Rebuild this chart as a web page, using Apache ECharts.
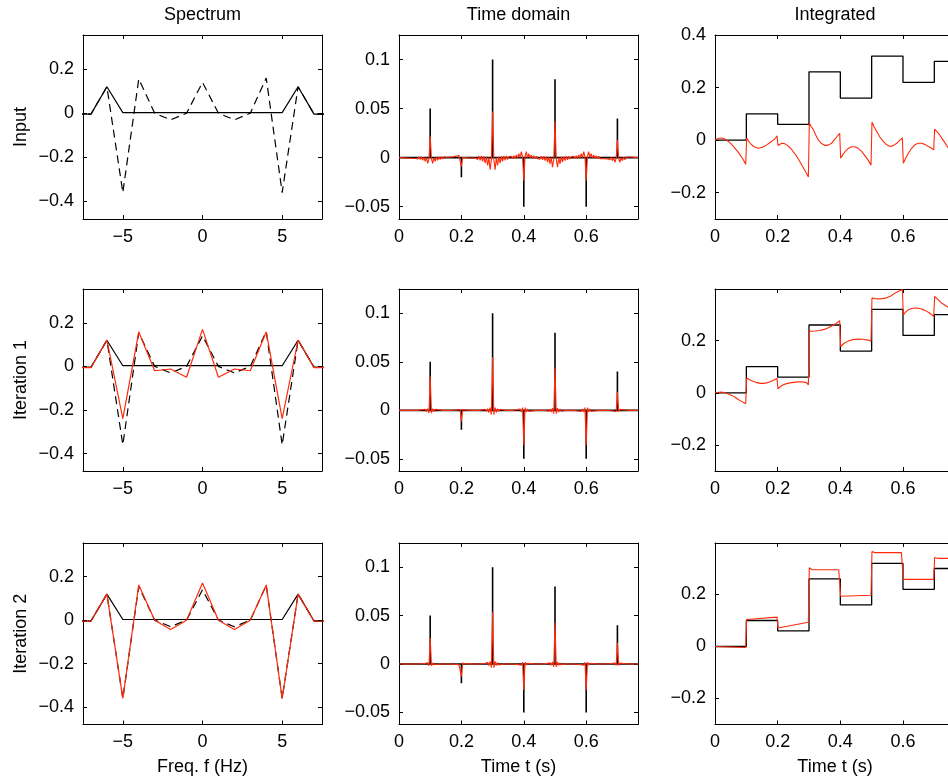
<!DOCTYPE html>
<html>
<head>
<meta charset="utf-8">
<script src="https://cdn.jsdelivr.net/npm/echarts@6/dist/echarts.min.js"></script>
<style>
  html, body { margin: 0; padding: 0; background: #fff; }
  #chart { width: 948px; height: 780px; }
</style>
</head>
<body>
<div id="chart"></div>
<script>
// ---- Spectra (values at integer frequencies, Hz) ----
const freqs      = [-8, -7, -6, -5, -4, -3, -2, -1, 0, 1, 2, 3, 4, 5, 6, 7, 8];
const specInput  = [-0.004, -0.004, 0.12, 0.003, 0.003, 0.003, 0.003, 0.003, 0.003, 0.003, 0.003, 0.003, 0.003, 0.003, 0.12, -0.004, -0.004];
const specTarget = [-0.004, -0.004, 0.12, -0.36, 0.155, 0.0, -0.03, 0.0, 0.14, 0.0, -0.03, 0.0, 0.16, -0.36, 0.12, -0.004, -0.004];
const specIter1  = [-0.006, -0.006, 0.121, -0.24, 0.158, -0.02, -0.012, -0.05, 0.17, -0.05, -0.012, -0.02, 0.158, -0.24, 0.121, -0.006, -0.006];
const specIter2  = [-0.005, -0.005, 0.12, -0.36, 0.162, 0.0, -0.043, 0.0, 0.171, 0.0, -0.043, 0.0, 0.162, -0.36, 0.12, -0.005, -0.005];

// ---- Time domain: impulse train and its band-limited reconstructions ----
const tEnd        = 0.766;
const spikeTimes  = [0.1, 0.2, 0.3, 0.4, 0.5, 0.6, 0.7];
const spikeInput  = [0.05, -0.02, 0.1, -0.05, 0.08, -0.05, 0.04];
const peaksInput  = [0.022, -0.009, 0.047, -0.0236, 0.037, -0.0236, 0.018];
const peaksIter1  = [0.035, -0.0115, 0.055, -0.036, 0.044, -0.036, 0.019];
const peaksIter2  = [0.027, -0.013, 0.054, -0.027, 0.043, -0.027, 0.022];
// ringing around each peak, relative to the peak, sampled every ringStep seconds
const ringStep    = 0.004;
const ringInput   = [-0.04, 0.04, -0.06, 0.04, -0.08, 0.03, -0.12, 0.02, -0.17, 0.0, -0.26, -0.05, 1.0,
                     -0.05, -0.26, 0.0, -0.17, 0.02, -0.12, 0.03, -0.08, 0.04, -0.06, 0.04, -0.04];
const ringIter1   = [0, 0, 0, 0, 0.01, -0.01, 0.02, -0.02, 0.03, -0.04, 0.05, -0.08, 1.0,
                     -0.08, 0.05, -0.04, 0.03, -0.02, 0.02, -0.01, 0.01, 0, 0, 0, 0];
const ringIter2   = [0, 0, 0, 0, 0.01, -0.01, 0.015, -0.02, 0.03, -0.03, 0.05, -0.07, 1.0,
                     -0.07, 0.05, -0.03, 0.03, -0.02, 0.015, -0.01, 0.01, 0, 0, 0, 0];

// ---- Integrated signals ----
const stepTimes  = [0, 0.1, 0.2, 0.3, 0.4, 0.5, 0.6, 0.7];
const stepLevels = [0, 0.1, 0.06, 0.26, 0.16, 0.32, 0.22, 0.30];
const intInput = [[0,0],[0.01,0.006],[0.021,0.008],[0.032,0.004],[0.043,-0.005],[0.054,-0.017],[0.064,-0.031],
  [0.072,-0.043],[0.08,-0.056],[0.089,-0.072],[0.098,-0.092],
  [0.101,0.008],[0.106,-0.002],[0.112,-0.012],[0.118,-0.019],[0.125,-0.025],[0.138,-0.031],[0.152,-0.027],
  [0.165,-0.018],[0.176,-0.009],[0.186,0.0],[0.193,0.008],[0.198,0.016],
  [0.201,-0.02],[0.207,-0.014],[0.213,-0.012],[0.221,-0.013],[0.229,-0.018],[0.24,-0.029],[0.25,-0.044],
  [0.261,-0.062],[0.271,-0.082],[0.285,-0.112],[0.292,-0.126],[0.298,-0.14],
  [0.301,0.065],[0.307,0.052],[0.314,0.04],[0.322,0.019],[0.33,0.0],[0.34,-0.013],[0.351,-0.02],
  [0.362,-0.019],[0.372,-0.012],[0.38,0.0],[0.388,0.012],[0.398,0.026],
  [0.401,-0.069],[0.408,-0.055],[0.415,-0.044],[0.425,-0.032],[0.436,-0.025],[0.446,-0.025],[0.457,-0.031],
  [0.468,-0.043],[0.479,-0.06],[0.489,-0.076],[0.498,-0.095],
  [0.501,0.068],[0.508,0.05],[0.516,0.033],[0.526,0.012],[0.537,-0.005],[0.548,-0.018],[0.559,-0.024],
  [0.57,-0.02],[0.58,-0.012],[0.59,0.0],[0.598,0.008],
  [0.601,-0.088],[0.609,-0.068],[0.617,-0.05],[0.627,-0.032],[0.638,-0.018],[0.649,-0.012],[0.66,-0.012],
  [0.671,-0.017],[0.681,-0.024],[0.69,-0.03],[0.698,-0.037],
  [0.701,0.042],[0.707,0.036],[0.713,0.027],[0.728,0.0],[0.743,-0.027],[0.766,-0.05]];
const intIter1 = [[0,0],[0.021,0.003],[0.037,-0.002],[0.053,-0.01],[0.064,-0.017],[0.074,-0.026],[0.086,-0.034],[0.098,-0.042],
  [0.101,0.057],[0.109,0.051],[0.117,0.046],[0.13,0.04],[0.144,0.036],[0.155,0.036],[0.165,0.038],[0.176,0.042],
  [0.186,0.048],[0.198,0.055],
  [0.201,0.015],[0.209,0.024],[0.218,0.031],[0.231,0.036],[0.245,0.039],[0.258,0.041],[0.271,0.042],[0.283,0.041],
  [0.293,0.038],[0.298,0.03],
  [0.301,0.237],[0.31,0.236],[0.319,0.237],[0.335,0.239],[0.351,0.244],[0.365,0.251],[0.378,0.26],[0.388,0.267],[0.398,0.276],
  [0.401,0.177],[0.412,0.19],[0.426,0.199],[0.441,0.204],[0.457,0.206],[0.473,0.205],[0.489,0.202],[0.498,0.198],
  [0.501,0.363],[0.511,0.361],[0.521,0.36],[0.535,0.361],[0.548,0.364],[0.561,0.371],[0.574,0.382],[0.586,0.389],[0.598,0.396],
  [0.601,0.299],[0.609,0.31],[0.617,0.318],[0.63,0.324],[0.644,0.325],[0.657,0.322],[0.67,0.316],[0.685,0.306],[0.698,0.293],
  [0.701,0.37],[0.712,0.357],[0.723,0.344],[0.743,0.329],[0.766,0.315]];
const intIter2 = [[0,0],[0.098,-0.004],[0.101,0.104],[0.198,0.113],[0.201,0.071],[0.298,0.093],
  [0.301,0.303],[0.31,0.295],[0.395,0.295],[0.398,0.3],[0.401,0.193],[0.498,0.197],
  [0.501,0.365],[0.51,0.361],[0.595,0.361],[0.601,0.258],[0.698,0.258],
  [0.701,0.342],[0.71,0.339],[0.766,0.339]];

// ---- Labels ----
const colTitles = ['Spectrum', 'Time domain', 'Integrated'];
const rowLabels = ['Input', 'Iteration 1', 'Iteration 2'];
const xNames    = ['Freq. f (Hz)', 'Time t (s)', 'Time t (s)'];

// ---- Layout ----
const FONT = '"Liberation Sans", Arial, Helvetica, sans-serif';
const RED = '#ff2a0a';
const colLeft = [83, 399, 715];
const colWidth = [239, 239, 240];
const rowTop = [35, 289, 543];
const rowHeight = [184, 182, 181.5];

const axisRanges = [
  [{ xmin: -7.5, xmax: 7.5, xt: [-5, 0, 5], ymin: -0.48, ymax: 0.355, yt: [-0.4, -0.2, 0, 0.2] }],
  [{ xmin: 0, xmax: tEnd, xt: [0, 0.2, 0.4, 0.6], ymin: -0.0625, ymax: 0.125, yt: [-0.05, 0, 0.05, 0.1] }],
  [{ xmin: 0, xmax: tEnd, xt: [0, 0.2, 0.4, 0.6], ymin: -0.3, ymax: 0.4, yt: [-0.2, 0, 0.2, 0.4] },
   { xmin: 0, xmax: tEnd, xt: [0, 0.2, 0.4, 0.6], ymin: -0.3, ymax: 0.398, yt: [-0.2, 0, 0.2] }]
];

function fmt(v) {
  return v < 0 ? '\u2212' + String(-v) : String(v);
}

function makeAxis(gridIndex, position, min, max, ticks, showLabels) {
  return {
    type: 'value', gridIndex, position, min, max,
    axisLine: { show: true, onZero: false, lineStyle: { color: '#000', width: 1 } },
    axisTick: { show: true, inside: true, length: 4, customValues: ticks, lineStyle: { color: '#000', width: 1 } },
    axisLabel: { show: showLabels, customValues: ticks, formatter: fmt, color: '#000',
                 fontSize: 18, fontFamily: FONT, margin: 9 },
    splitLine: { show: false },
    nameTextStyle: { fontSize: 18, color: '#000', fontFamily: FONT }
  };
}

function spikeLine(times, values) {
  const pts = [[0, 0]];
  times.forEach((t, i) => { pts.push([t, 0], [t, values[i]], [t, 0]); });
  pts.push([tEnd, 0]);
  return pts;
}

function ringLine(times, peaks, ring) {
  const pts = [[0, 0]];
  const mid = (ring.length - 1) / 2;
  times.forEach((t, i) => {
    ring.forEach((r, k) => { pts.push([t + (k - mid) * ringStep, r * peaks[i]]); });
  });
  pts.push([tEnd, 0]);
  return pts;
}

function stepLine() {
  const pts = stepTimes.map((t, i) => [t, stepLevels[i]]);
  pts.push([tEnd, stepLevels[stepLevels.length - 1]]);
  return pts;
}

const grids = [], xAxes = [], yAxes = [], series = [];
const axisIndexOf = {};

for (let r = 0; r < 3; r++) {
  for (let c = 0; c < 3; c++) {
    const g = grids.length;
    grids.push({ left: colLeft[c], top: rowTop[r], width: colWidth[c], height: rowHeight[r],
                 show: false, outerBoundsMode: 'none', containLabel: false });
    const rg = axisRanges[c][Math.min(r, axisRanges[c].length - 1)];

    const xb = makeAxis(g, 'bottom', rg.xmin, rg.xmax, rg.xt, true);
    if (r === 2) { xb.name = xNames[c]; xb.nameLocation = 'middle'; xb.nameGap = 34; }
    const xt = makeAxis(g, 'top', rg.xmin, rg.xmax, rg.xt, false);
    if (r === 0) { xt.name = colTitles[c]; xt.nameLocation = 'middle'; xt.nameGap = 11; }
    const yl = makeAxis(g, 'left', rg.ymin, rg.ymax, rg.yt, true);
    if (c === 0) { yl.name = rowLabels[r]; yl.nameLocation = 'middle'; yl.nameGap = 53; yl.nameRotate = 90; }
    const yr = makeAxis(g, 'right', rg.ymin, rg.ymax, rg.yt, false);

    axisIndexOf[r + '_' + c] = { x: xAxes.length, y: yAxes.length };
    xAxes.push(xb, xt);
    yAxes.push(yl, yr);
  }
}

function addLine(r, c, data, color, width, dash, extra) {
  const ax = axisIndexOf[r + '_' + c];
  series.push(Object.assign({
    type: 'line', xAxisIndex: ax.x, yAxisIndex: ax.y, data, symbol: 'none',
    animation: false, silent: true, clip: true,
    lineStyle: { color, width, type: dash || 'solid' }
  }, extra || {}));
}

const specPts = vals => freqs.map((f, i) => [f, vals[i]]);
const specRed = [null, specIter1, specIter2];
const timeRed = [[peaksInput, ringInput], [peaksIter1, ringIter1], [peaksIter2, ringIter2]];
const intRed = [intInput, intIter1, intIter2];

for (let r = 0; r < 3; r++) {
  // spectrum column
  addLine(r, 0, specPts(specInput), '#000', 1.2);
  addLine(r, 0, specPts(specTarget), '#000', 1.2, [8, 5]);
  if (specRed[r]) addLine(r, 0, specPts(specRed[r]), RED, 1.2);
  // time domain column
  addLine(r, 1, spikeLine(spikeTimes, spikeInput), '#000', 1.6);
  addLine(r, 1, ringLine(spikeTimes, timeRed[r][0], timeRed[r][1]), RED, 1.1);
  // integrated column
  addLine(r, 2, stepLine(), '#000', 1.3, null, { step: 'end' });
  addLine(r, 2, intRed[r], RED, 1.1);
}

const chart = echarts.init(document.getElementById('chart'), null, { renderer: 'canvas' });
chart.setOption({
  animation: false,
  backgroundColor: '#fff',
  textStyle: { fontFamily: FONT },
  grid: grids,
  xAxis: xAxes,
  yAxis: yAxes,
  series
});
</script>
</body>
</html>
